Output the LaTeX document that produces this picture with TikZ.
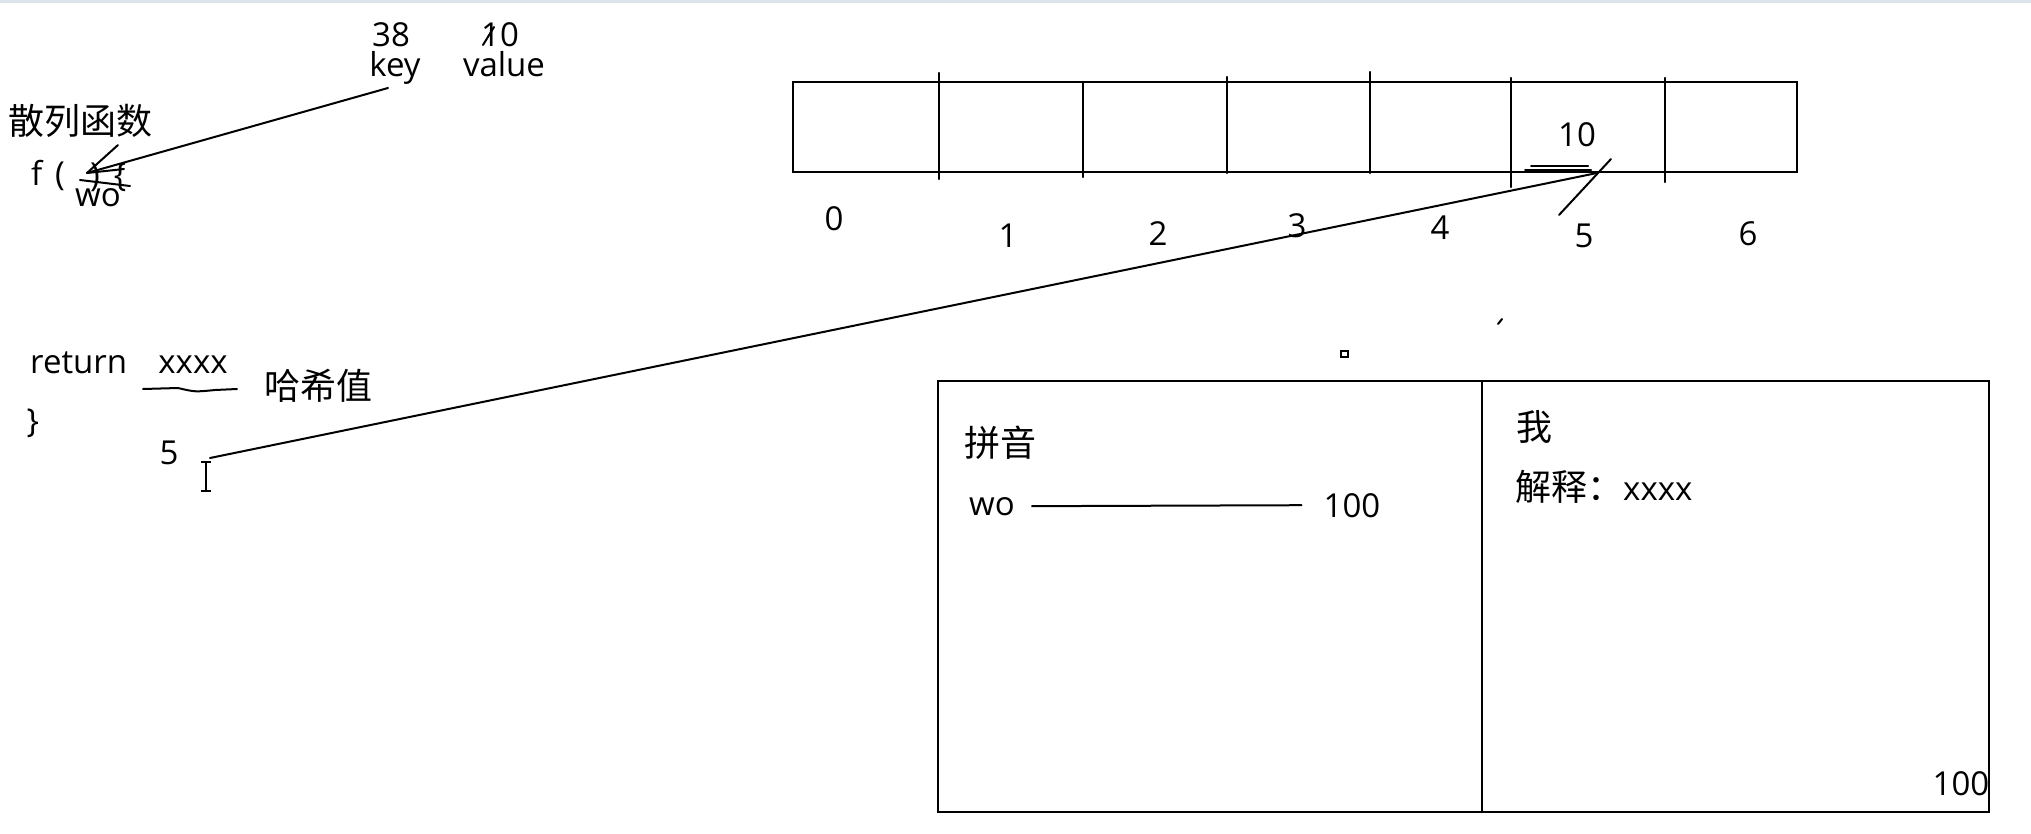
\documentclass[tikz,border=0pt]{standalone}
\usepackage{fontspec}
\setmainfont{Open Sans}
\newfontfamily\cjk{Noto Sans CJK SC}
\usetikzlibrary{positioning}
\definecolor{scrBand}{HTML}{DCE3EA}
\tikzset{
  lbl/.style={inner sep=0pt, font=\fontsize{33}{38}\selectfont},
  zh/.style={inner sep=0pt, font=\cjk\fontsize{36}{40}\selectfont},
  pen/.style={line width=2.5pt, line cap=round, draw=black},
  hand/.style={line width=2pt, line cap=round, draw=black},
}

\begin{document}
\begin{tikzpicture}[x=1pt, y=-1pt]
        \useasboundingbox (0,0) rectangle (2031,833);
        \fill[scrBand] (0,0) rectangle (2031,3);

        % key / value pair and the hash function
        \node[lbl, anchor=base] (kval) at (391,46) {38};
        \node[lbl, anchor=base] (key) at (395,76) {key};
        \node[lbl, anchor=base] (vval) at (500,46) {10};
        \node[lbl, anchor=base] (value) at (504,76) {value};
        \draw[hand] (483,45) -- (494,27);
        \node[zh] (hashfn) at (81,121) {散列函数};
        \node[lbl, anchor=base west] (fname) at (31,185) {f};
        \node[lbl, anchor=base] (lpar) at (60,185) {(};
        \node[lbl, anchor=base] (rpar) at (95,186) {)};
        \node[lbl, anchor=base] (lbrace) at (120,186) {\{};
        \node[lbl, anchor=base] (arg) at (98,206) {wo};
        \coordinate (ktail) at (388,88);
        \coordinate (argtip) at (87,173);
        \draw[hand] (ktail) -- (argtip);
        \draw[hand] (118,145) -- (argtip);
        \draw[hand] (argtip) -- (124,169);
        \draw[hand] (80,180) -- (130,186);

        % return value
        \node[lbl, anchor=base west] (ret) at (30,373) {return};
        \node[lbl, anchor=base] (ret val) at (193,373) {xxxx};
        \draw[hand] (143,389) -- (178,388) .. controls (195,392) .. (215,390) -- (237,389);
        \node[zh] (hashval) at (318,386) {哈希值};
        \node[lbl] (rbrace) at (33,423) {\}};
        \node[lbl] (h5) at (169,453) {5};
        \draw[line width=1.6pt] (206,463) -- (206,490) (201,462) -- (211,462) (201,491) -- (211,491);

        % the table with 7 slots
        \draw[pen] (793,82) rectangle (1797,172);
        \foreach \x/\ya/\yb in {939/73/179, 1083/82/177, 1227/77/173, 1370/72/173, 1511/78/187, 1665/78/182}{
            \draw[pen] (\x,\ya) -- (\x,\yb);
        }
        \foreach \i/\x/\y in {0/834/219, 1/1008/236, 2/1158/234, 3/1297/226, 4/1440/228, 5/1584/236, 6/1748/234}{
            \node[lbl] (idx\i) at (\x,\y) {\i};
        }
        \node[lbl] (slotval) at (1577,135) {10};
        \draw[hand] (1525,170) -- (1591,170) (1531,166) -- (1588,166);
        \coordinate (slot5) at (1597,173);
        \coordinate (cur) at (210,458);
        \draw[hand] (cur) -- (slot5);
        \draw[hand] (1611,159) -- (1559,215);

        % stray marks
        \draw[line width=1.8pt] (1341,351) rectangle (1348,357);
        \draw[line width=2pt, line cap=round] (1498,324) -- (1502,319);

        % dictionary box
        \draw[pen] (938,381) rectangle (1989,812);
        \draw[pen] (1482,381) -- (1482,812);
        \node[zh] (pinyin) at (1000,443) {拼音};
        \node[lbl, anchor=base] (wo) at (992,515) {wo};
        \node[lbl, anchor=base] (page) at (1352,517) {100};
        \draw[hand] ([xshift=17pt]wo.east) -- ([xshift=-22pt]page.west);
        \node[zh] (char) at (1534,427) {我};
        \node[lbl, anchor=base west] (expl) at (1515,500) {{\cjk\fontsize{36}{40}\selectfont 解释：}xxxx};
        \node[lbl, anchor=base] (pagenum) at (1961,795) {100};
\end{tikzpicture}
\end{document}
